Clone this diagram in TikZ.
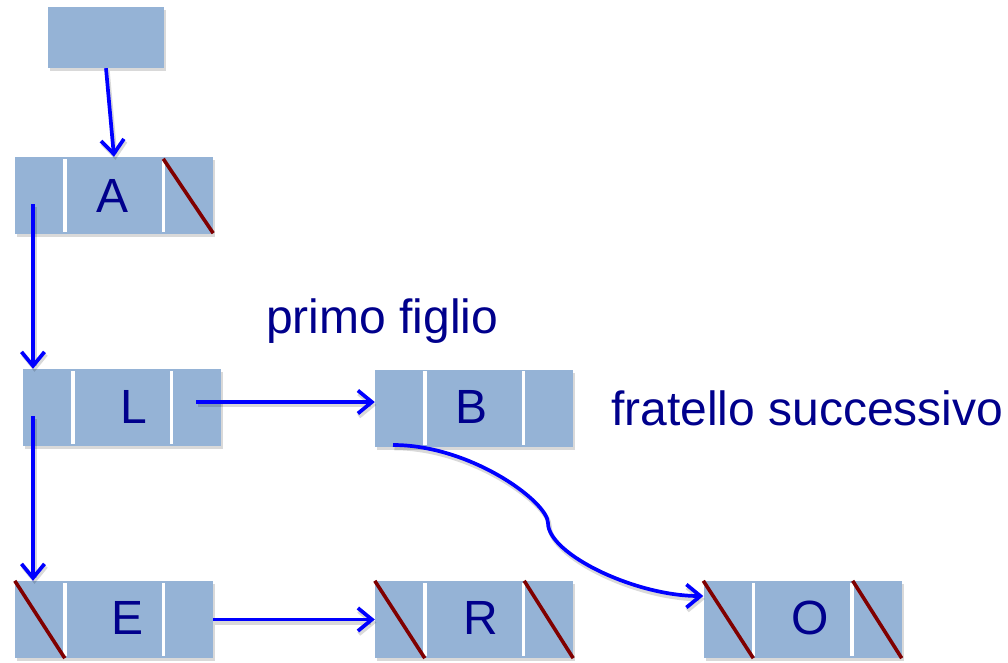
\documentclass[tikz,border=0pt]{standalone}
\usepackage{fontspec}
\setmainfont{Liberation Sans}
\usetikzlibrary{arrows.meta,shadows,calc}
\definecolor{cellfill}{RGB}{149,179,214}
\definecolor{labelblue}{RGB}{0,0,140}
\definecolor{nullred}{RGB}{128,0,0}
\definecolor{linkblue}{RGB}{0,0,255}
\tikzset{
  record/.style={fill=cellfill, minimum width=198pt, minimum height=77pt, inner sep=0pt,
    drop shadow={shadow xshift=2pt, shadow yshift=-3pt, opacity=0.3}},
  divider/.style={draw=white, line width=3.4pt},
  nullmark/.style={draw=nullred, line width=3.6pt},
  link/.style={draw=linkblue, line width=3.7pt, -{Straight Barb[length=14pt,width=23pt]},
    preaction={draw=black, opacity=0.15, line width=4.5pt,
      transform canvas={shift={(1.5pt,-3pt)}}}},
  letter/.style={text=labelblue, font=\fontsize{48}{56}\selectfont, inner sep=0pt, anchor=base},
  caption/.style={text=labelblue, font=\fontsize{48}{56}\selectfont, inner sep=0pt, anchor=base west},
}
\begin{document}
\begin{tikzpicture}[x=1pt, y=-1pt]
  \useasboundingbox (0,0) rectangle (1008,663);

  % list records
  \node[record, minimum width=116pt, minimum height=61pt] (nTop) at (106,37.5) {};
  \node[record] (nA) at (114,195.5) {};
  \node[record] (nL) at (122,407.5) {};
  \node[record] (nB) at (474,408) {};
  \node[record] (nE) at (114,619.5) {};
  \node[record] (nR) at (474,619.5) {};
  \node[record] (nO) at (802.5,619.5) {};

  % cell dividers
  \foreach \n in {nA,nL,nB,nE,nR,nO} {
    \draw[divider] ($(\n.north west)+(50,2)$) -- ($(\n.south west)+(50,-2)$);
    \draw[divider] ($(\n.north west)+(148.5,2)$) -- ($(\n.south west)+(148.5,-2)$);
  }

  % null pointers
  \draw[nullmark] ($(nA.north east)+(-50,2)$) -- ($(nA.south east)+(0,-1)$);
  \draw[nullmark] (nE.north west) -- ($(nE.south west)+(50,0)$);
  \draw[nullmark] (nR.north west) -- ($(nR.south west)+(50,0)$);
  \draw[nullmark] ($(nR.north east)+(-49,0)$) -- (nR.south east);
  \draw[nullmark] (nO.north west) -- ($(nO.south west)+(50,0)$);
  \draw[nullmark] ($(nO.north east)+(-49,0)$) -- (nO.south east);

  % keys
  \node[letter] (kA) at (113,212) {A};
  \node[letter] (kL) at (134,423) {L};
  \node[letter] (kB) at (472,423) {B};
  \node[letter] (kE) at (128,634) {E};
  \node[letter] (kR) at (481,634) {R};
  \node[letter] (kO) at (810,634) {O};

  % captions
  \node[caption] (capChild) at (266,333) {primo figlio};
  \node[caption] (capSib) at (611,425) {fratello successivo};

  % pointer origins inside cells
  \coordinate (aDown) at (33,204);
  \coordinate (lDown) at (33,416);
  \coordinate (lNext) at (196,402);
  \coordinate (bNext) at (393,445);
  \coordinate (oIn) at ($(nO.west)+(0,-23.5)$);

  % links
  \draw[link] (nTop.south) -- (nA.north);
  \draw[link] (aDown) -- (aDown |- nL.north);
  \draw[link] (lDown) -- (lDown |- nE.north);
  \draw[link] (lNext) -- (lNext -| nB.west);
  \draw[link] (nE.east) -- (nR.west);
  \draw[link] (bNext) .. controls (471,445) and (548,502) .. (548,523)
                      .. controls (548,554) and (635,596) .. (oIn);
\end{tikzpicture}
\end{document}
